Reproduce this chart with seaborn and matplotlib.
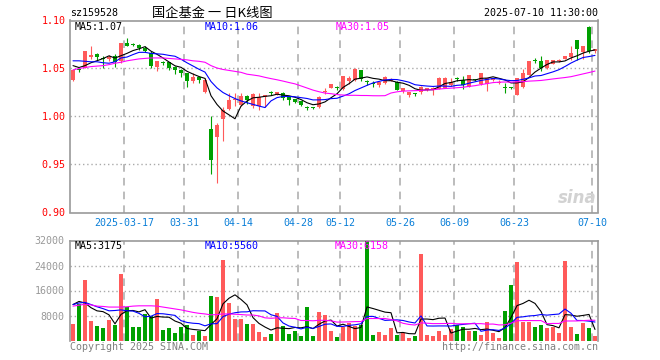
import pandas as pd
import matplotlib.pyplot as plt
import seaborn as sns

# daily bars for sz159528, 2025-03-04 .. 2025-07-10 (88 sessions)
opens = [1.0375, 1.049, 1.051, 1.0615, 1.065, 1.061, 1.060, 1.063, 1.058, 1.077,
         1.0750, 1.0747, 1.071, 1.066, 1.0515, 1.0563, 1.0563, 1.052, 1.0486, 1.0452,
         1.0365, 1.041, 1.026, 0.987, 0.979, 0.997, 1.008, 1.017, 1.0125, 1.0215,
         1.011, 1.0108, 1.0198, 1.0246, 1.0226, 1.025, 1.0208, 1.0184, 1.0163, 1.0092,
         1.0089, 1.0104, 1.0252, 1.0302, 1.0298, 1.0282, 1.0365, 1.0375, 1.0486, 1.0362,
         1.0345, 1.0323, 1.0345, 1.0372, 1.0362, 1.0262, 1.0222, 1.0238, 1.0254, 1.0278,
         1.0285, 1.0290, 1.0298, 1.0330, 1.0392, 1.0385, 1.0310, 1.0382, 1.0340, 1.0335,
         1.0375, 1.0352, 1.0300, 1.0302, 1.0226, 1.0306, 1.0430, 1.0582, 1.0573, 1.0504,
         1.0549, 1.0578, 1.0598, 1.0620, 1.0799, 1.0677, 1.0930, 1.0680]
highs = [1.049, 1.050, 1.068, 1.073, 1.0665, 1.063, 1.064, 1.065, 1.0765, 1.0815,
         1.0765, 1.0757, 1.073, 1.0685, 1.0575, 1.0575, 1.0565, 1.0525, 1.0490, 1.0455,
         1.0452, 1.0415, 1.040, 1.0007, 0.993, 1.010, 1.025, 1.024, 1.024, 1.022,
         1.024, 1.025, 1.0226, 1.0262, 1.0258, 1.0255, 1.021, 1.0186, 1.0165, 1.0105,
         1.0098, 1.021, 1.0295, 1.0340, 1.0318, 1.042, 1.0425, 1.050, 1.0486, 1.0385,
         1.037, 1.0365, 1.0417, 1.040, 1.0370, 1.0298, 1.0254, 1.0240, 1.0313, 1.0302,
         1.0306, 1.0408, 1.041, 1.0405, 1.0415, 1.0425, 1.0436, 1.0395, 1.0458, 1.0405,
         1.0405, 1.0375, 1.0345, 1.0312, 1.0402, 1.0492, 1.0583, 1.0610, 1.0630, 1.0592,
         1.0592, 1.0596, 1.0630, 1.0735, 1.0800, 1.0732, 1.0945, 1.0702]
lows = [1.0365, 1.046, 1.050, 1.060, 1.059, 1.050, 1.058, 1.052, 1.0556, 1.073,
        1.0735, 1.0695, 1.067, 1.050, 1.047, 1.0535, 1.0486, 1.0445, 1.041, 1.031,
        1.035, 1.0348, 1.025, 0.940, 0.931, 0.974, 1.007, 1.011, 1.011, 1.0125,
        1.009, 1.007, 1.0104, 1.0225, 1.0222, 1.0167, 1.0122, 1.0142, 1.011, 1.0068,
        1.0075, 1.009, 1.0230, 1.0295, 1.0272, 1.028, 1.034, 1.037, 1.0365, 1.0325,
        1.0305, 1.031, 1.034, 1.0365, 1.0272, 1.0245, 1.0206, 1.0215, 1.0236, 1.0262,
        1.022, 1.0285, 1.0292, 1.0318, 1.0365, 1.0288, 1.0306, 1.0365, 1.0330, 1.0265,
        1.037, 1.034, 1.0242, 1.0285, 1.0222, 1.0300, 1.0428, 1.0555, 1.0470, 1.0498,
        1.0545, 1.0568, 1.0595, 1.0590, 1.0585, 1.0598, 1.0660, 1.0665]
closes = [1.0486, 1.048, 1.068, 1.0643, 1.0615, 1.060, 1.062, 1.0567, 1.0765, 1.0736,
          1.0745, 1.0712, 1.068, 1.053, 1.0573, 1.0553, 1.0504, 1.048, 1.0452, 1.0365,
          1.041, 1.0375, 1.0382, 0.955, 0.991, 1.007, 1.0174, 1.0178, 1.021, 1.0175,
          1.0236, 1.0203, 1.0226, 1.0242, 1.0254, 1.019, 1.0167, 1.015, 1.0122, 1.0088,
          1.0086, 1.0208, 1.0256, 1.0338, 1.0294, 1.0417, 1.0403, 1.0494, 1.039, 1.0358,
          1.0342, 1.0362, 1.0413, 1.0390, 1.0278, 1.0292, 1.0252, 1.0234, 1.0310, 1.0300,
          1.0300, 1.0405, 1.0405, 1.0362, 1.0388, 1.0332, 1.0434, 1.0379, 1.0455, 1.0400,
          1.0400, 1.0355, 1.0296, 1.0298, 1.0400, 1.0458, 1.0580, 1.0578, 1.0504, 1.0590,
          1.0590, 1.0582, 1.0628, 1.0660, 1.0702, 1.0730, 1.0680, 1.0698]
volumes = [5333, 11733, 19413, 6293, 4693, 4053, 6613, 5013, 21333, 10667,
           4373, 4373, 8533, 7893, 13333, 3413, 4053, 2453, 4373, 5013,
           1813, 3093, 1493, 14293, 13973, 25813, 12053, 6933, 6933, 5333,
           5333, 2773, 1173, 2133, 8853, 4693, 2133, 3093, 1493, 10773,
           1493, 9173, 8213, 3093, 1173, 4373, 5653, 4693, 5013, 34000,
           1813, 2773, 1813, 4053, 1813, 2453, 853, 1493, 27733, 1813,
           1493, 3093, 1813, 3733, 5013, 4373, 3093, 3093, 1813, 5973,
           2453, 853, 9493, 17813, 25173, 5973, 5973, 4373, 5013, 4053,
           4373, 2453, 25493, 4373, 2133, 5653, 4053, 1493]

# MA values before enough history is in the window
ma5_head = [1.053, 1.051, 1.053, 1.056]
ma10_head = [1.058, 1.058, 1.0575, 1.057, 1.057, 1.056, 1.0555, 1.057, 1.061]
ma30_head = [1.0485, 1.050, 1.051, 1.052, 1.0525, 1.053, 1.054, 1.0555, 1.0565, 1.058,
             1.059, 1.060, 1.0605, 1.061, 1.061, 1.061, 1.0605, 1.060, 1.0595, 1.059,
             1.058, 1.0575, 1.0565, 1.053, 1.0505, 1.049, 1.048, 1.047, 1.046]
vma5_head = [11500, 12500, 12000, 10500]
vma10_head = [11500, 12000, 12200, 11500, 10800, 10200, 9500, 9600, 9800]
vma30_head = [11000, 11300, 11600, 11400, 11000, 10900, 10700, 10700, 10700, 10800,
              11000, 11100, 11100, 11100, 11000, 10700, 10400, 10100, 9800, 9400,
              9000, 8700, 8500, 8200, 8300, 8500, 8500, 8400, 8300]

tick_pos = [9, 19, 28, 38, 45, 55, 64, 74, 87]
tick_labels = ["2025-03-17", "03-31", "04-14", "04-28", "05-12",
               "05-26", "06-09", "06-23", "07-10"]

RED = "#FF5A5A"
GREEN = "#00A000"
MONO = "DejaVu Sans Mono"


def moving_avg(values, n, head):
    s = pd.Series(values, dtype=float).rolling(n).mean()
    s.iloc[:len(head)] = head
    return s


df = pd.DataFrame({"open": opens, "high": highs, "low": lows,
                   "close": closes, "vol": volumes})
df["idx"] = range(len(df))
df["dir"] = ["up" if c >= o else "down" for o, c in zip(df.open, df.close)]
df["color"] = df["dir"].map({"up": RED, "down": GREEN})

ma5 = moving_avg(closes, 5, ma5_head)
ma10 = moving_avg(closes, 10, ma10_head)
ma30 = moving_avg(closes, 30, ma30_head)
vma5 = moving_avg(volumes, 5, vma5_head)
vma10 = moving_avg(volumes, 10, vma10_head)
vma30 = moving_avg(volumes, 30, vma30_head)

sns.set_style("white")
plt.rcParams["font.family"] = [MONO, "Noto Sans CJK SC"]

W, H = 660, 360
fig = plt.figure(figsize=(6.6, 3.6), dpi=100)
ax = fig.add_axes([70 / W, 1 - 212.5 / H, 528 / W, 192 / H])
axv = fig.add_axes([70 / W, 1 - 340.5 / H, 528 / W, 100 / H])

# candles
body_lo = df[["open", "close"]].min(axis=1)
body_h = (df.close - df.open).abs().clip(lower=0.0009)
ax.vlines(df.idx, df.low, df.high, colors=df.color, linewidth=0.8, zorder=3)
ax.bar(df.idx, body_h, bottom=body_lo, width=0.82, color=df.color,
       linewidth=0, zorder=3)

sns.lineplot(x=df.idx, y=ma5, color="black", linewidth=0.8, ax=ax, zorder=4)
sns.lineplot(x=df.idx, y=ma10, color="#0000FF", linewidth=0.8, ax=ax, zorder=4)
sns.lineplot(x=df.idx, y=ma30, color="#FF00FF", linewidth=0.8, ax=ax, zorder=4)

# volume
sns.barplot(data=df, x="idx", y="vol", hue="dir", palette={"up": RED, "down": GREEN},
            dodge=False, width=0.82, saturation=1, legend=False, linewidth=0,
            ax=axv, zorder=3)
sns.lineplot(x=df.idx, y=vma5, color="black", linewidth=0.8, ax=axv, zorder=4)
sns.lineplot(x=df.idx, y=vma10, color="#0000FF", linewidth=0.8, ax=axv, zorder=4)
sns.lineplot(x=df.idx, y=vma30, color="#FF00FF", linewidth=0.8, ax=axv, zorder=4)

grid_x = [p - 0.5 for p in tick_pos]
for a in (ax, axv):
    a.set_xlim(-0.5, 87.5)
    a.set_xlabel("")
    a.set_ylabel("")
    for x in grid_x:
        a.axvline(x, color="#AAAAAA", linewidth=1.1, linestyle=(0, (5, 4)), zorder=1)
    for sp in a.spines.values():
        sp.set_color("#999999")
        sp.set_linewidth(1.2)
    a.tick_params(length=0)

ax.set_ylim(0.90, 1.10)
ax.set_yticks([0.90, 0.95, 1.00, 1.05, 1.10])
ax.set_yticklabels(["0.90", "0.95", "1.00", "1.05", "1.10"])
for y in (0.95, 1.00, 1.05):
    ax.axhline(y, color="#AAAAAA", linewidth=1.0, linestyle=(0, (1, 2)), zorder=1)
ax.set_xticks(grid_x)
ax.set_xticklabels(tick_labels)
ax.tick_params(axis="y", colors="#FF0000", labelsize=7.2, pad=3)
ax.tick_params(axis="x", colors="#0A7FD8", labelsize=7.2, pad=4)

axv.set_ylim(0, 32000)
axv.set_yticks([8000, 16000, 24000, 32000])
axv.set_yticklabels(["8000", "16000", "24000", "32000"])
for y in (8000, 16000, 24000):
    axv.axhline(y, color="#AAAAAA", linewidth=1.0, linestyle=(0, (1, 2)), zorder=1)
axv.set_xticks([])
axv.tick_params(axis="y", colors="#999999", labelsize=7.2, pad=4)
axv.spines["bottom"].set_visible(False)


def ftext(px, py, s, **kw):
    kw.setdefault("va", "center")
    kw.setdefault("fontsize", 7.2)
    fig.text(px / W, 1 - py / H, s, **kw)


ftext(70, 13, "sz159528", color="black")
ftext(152, 13, "国企基金 一 日K线图", family=["Noto Sans CJK SC", MONO],
      fontsize=9.5, color="black")
ftext(598, 13, "2025-07-10 11:30:00", ha="right", color="black")

ftext(75, 27, "MA5:1.07", color="black")
ftext(205, 27, "MA10:1.06", color="#0000FF")
ftext(336, 27, "MA30:1.05", color="#FF00FF")
ftext(75, 246, "MA5:3175", color="black")
ftext(205, 246, "MA10:5560", color="#0000FF")
ftext(335, 246, "MA30:6158", color="#FF00FF")

ftext(70, 347, "Copyright 2025 SINA.COM", color="#808080")
ftext(598, 347, "http://finance.sina.com.cn", ha="right", color="#808080")
ftext(597, 198, "sina", ha="right", color="#D2D2D2", fontsize=12,
      family="DejaVu Sans", fontstyle="italic", fontweight="bold")

fig.savefig("out.png", dpi=100)
